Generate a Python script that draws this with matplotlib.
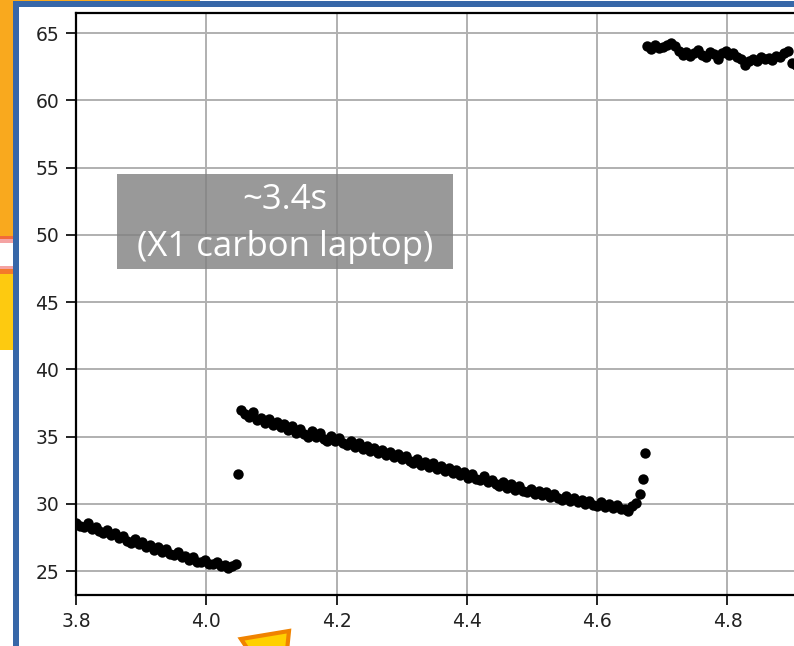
import numpy as np
import matplotlib
matplotlib.use("Agg")
import matplotlib.pyplot as plt
from matplotlib.patches import Rectangle, Polygon

W, H = 794, 646

# first run, before the jump
t1 = [3.800, 3.806, 3.812, 3.818, 3.824, 3.830, 3.836, 3.842, 3.848, 3.854,
      3.860, 3.866, 3.872, 3.878, 3.884, 3.890, 3.896, 3.902, 3.908, 3.914,
      3.920, 3.926, 3.932, 3.938, 3.944, 3.950, 3.956, 3.962, 3.968, 3.974,
      3.980, 3.986, 3.992, 3.998, 4.004, 4.010, 4.016, 4.022, 4.028, 4.034,
      4.040, 4.046, 4.049]
v1 = [28.60, 28.35, 28.25, 28.55, 28.10, 28.30, 27.95, 27.80, 28.05, 27.65,
      27.80, 27.45, 27.60, 27.25, 27.10, 27.35, 27.00, 27.15, 26.80, 26.95,
      26.60, 26.80, 26.45, 26.65, 26.30, 26.20, 26.45, 26.05, 26.15, 25.85,
      26.05, 25.70, 25.65, 25.85, 25.55, 25.50, 25.65, 25.35, 25.45, 25.20,
      25.35, 25.55, 32.20]

# second run
t2 = [4.054, 4.060, 4.066, 4.072, 4.078, 4.084, 4.090, 4.096, 4.102, 4.108,
      4.114, 4.120, 4.126, 4.132, 4.138, 4.144, 4.150, 4.156, 4.162, 4.168,
      4.174, 4.180, 4.186, 4.192, 4.198, 4.204, 4.210, 4.216, 4.222, 4.228,
      4.234, 4.240, 4.246, 4.252, 4.258, 4.264, 4.270, 4.276, 4.282, 4.288,
      4.294, 4.300, 4.306, 4.312, 4.318, 4.324, 4.330, 4.336, 4.342, 4.348,
      4.354, 4.360, 4.366, 4.372, 4.378, 4.384, 4.390, 4.396, 4.402, 4.408,
      4.414, 4.420, 4.426, 4.432, 4.438, 4.444, 4.450, 4.456, 4.462, 4.468,
      4.474, 4.480, 4.486, 4.492, 4.498, 4.504, 4.510, 4.516, 4.522, 4.528,
      4.534, 4.540, 4.546, 4.552, 4.558, 4.564, 4.570, 4.576, 4.582, 4.588,
      4.594, 4.600, 4.606, 4.612, 4.618, 4.624, 4.630, 4.636, 4.642, 4.648,
      4.654, 4.660, 4.666, 4.671, 4.674]
v2 = [37.00, 36.65, 36.45, 36.85, 36.25, 36.40, 36.00, 36.30, 35.85, 36.10,
      35.70, 35.95, 35.50, 35.80, 35.30, 35.60, 35.20, 35.00, 35.40, 34.95,
      35.25, 34.85, 34.70, 35.05, 34.65, 34.90, 34.50, 34.35, 34.70, 34.25,
      34.50, 34.05, 34.30, 33.90, 34.15, 33.75, 34.00, 33.65, 33.85, 33.45,
      33.70, 33.30, 33.55, 33.15, 33.05, 33.35, 32.90, 33.10, 32.75, 33.00,
      32.60, 32.85, 32.45, 32.70, 32.30, 32.55, 32.15, 32.40, 31.95, 32.20,
      31.85, 31.75, 32.05, 31.60, 31.80, 31.45, 31.35, 31.60, 31.20, 31.45,
      31.05, 31.30, 30.95, 30.85, 31.10, 30.75, 30.95, 30.65, 30.85, 30.50,
      30.70, 30.40, 30.30, 30.55, 30.20, 30.40, 30.10, 30.30, 30.00, 30.20,
      29.90, 29.85, 30.10, 29.75, 29.95, 29.70, 29.90, 29.65, 29.60, 29.50,
      29.85, 30.05, 30.70, 31.85, 33.75]

# third run
t3 = [4.677, 4.683, 4.689, 4.695, 4.701, 4.707, 4.713, 4.719, 4.725, 4.731,
      4.737, 4.743, 4.749, 4.755, 4.761, 4.767, 4.773, 4.779, 4.785, 4.791,
      4.797, 4.803, 4.809, 4.815, 4.821, 4.827, 4.833, 4.839, 4.845, 4.851,
      4.857, 4.863, 4.869, 4.875, 4.881, 4.887, 4.893, 4.899, 4.905]
v3 = [64.05, 63.85, 64.10, 63.90, 64.00, 64.15, 64.30, 64.05, 63.70, 63.40,
      63.60, 63.30, 63.55, 63.75, 63.35, 63.20, 63.60, 63.45, 63.10, 63.55,
      63.70, 63.40, 63.50, 63.25, 63.05, 62.60, 62.95, 63.10, 62.95, 63.20,
      63.05, 63.15, 63.00, 63.30, 63.20, 63.50, 63.65, 62.75, 62.60]

xticks = [3.8, 4.0, 4.2, 4.4, 4.6, 4.8]
yticks = [25, 30, 35, 40, 45, 50, 55, 60, 65]
note = ["~3.4s", "(X1 carbon laptop)"]


def fx(px):
    return px / W


def fy(py):
    return 1 - py / H


fig = plt.figure(figsize=(W / 100, H / 100), dpi=100)

# slide bits behind the chart frame
def box(x0, y0, x1, y1, color, z=0):
    fig.patches.append(Rectangle((fx(x0), fy(y1)), fx(x1) - fx(x0), fy(y0) - fy(y1),
                                 transform=fig.transFigure, facecolor=color,
                                 edgecolor="none", zorder=z))

box(0, 0, 14, 236, "#f9a91e")
box(0, 236, 14, 239, "#f26a3a")
box(0, 239, 14, 243, "#f4a3a3")
box(0, 266, 14, 269, "#f4a3a3")
box(0, 269, 14, 274, "#f47a2a")
box(0, 274, 14, 350, "#fdca10")
box(14, 0, 200, 2, "#f9a91e")
box(13, 1, 19, H, "#3767a8", 1)
box(13, 1, W, 7, "#3767a8", 1)

ax_left, ax_right, ax_top, ax_bot = 76, 800, 13, 595
ax = fig.add_axes([fx(ax_left), fy(ax_bot), fx(ax_right) - fx(ax_left),
                   fy(ax_top) - fy(ax_bot)])
ax.set_xlim(3.8, 3.8 + (ax_right - ax_left) / 651.5)
ax.set_ylim(23.22, 66.5)

for t, v in [(t1, v1), (t2, v2), (t3, v3)]:
    ax.plot(t, v, "o", color="black", markersize=7.5, markeredgewidth=0, zorder=3)

ax.set_xticks(xticks)
ax.set_xticklabels([f"{x:.1f}" for x in xticks])
ax.set_yticks(yticks)
ax.grid(True, color="#b0b0b0", linewidth=1.4)
ax.set_axisbelow(True)
ax.tick_params(labelsize=13.5, length=7, width=1.4, pad=5, colors="#222222")
for s in ax.spines.values():
    s.set_linewidth(1.6)

# grey caption box over the plot
fig.patches.append(Rectangle((fx(117), fy(269)), fx(453) - fx(117), fy(174) - fy(269),
                             transform=fig.transFigure, facecolor="#808080",
                             alpha=0.8, edgecolor="none", zorder=5))
fig.text(fx(285), fy(200), note[0], color="white", fontsize=25, family="Open Sans",
         ha="center", va="center", zorder=6)
fig.text(fx(285), fy(247), note[1], color="white", fontsize=25, family="Open Sans",
         ha="center", va="center", zorder=6)

# orange arrow tip at the bottom
fig.patches.append(Polygon([(fx(241), fy(639)), (fx(289), fy(631)), (fx(282), fy(700))],
                           closed=True, transform=fig.transFigure, facecolor="#ffd000",
                           edgecolor="#f08300", linewidth=3, zorder=6))

fig.savefig("out.png", dpi=100)
